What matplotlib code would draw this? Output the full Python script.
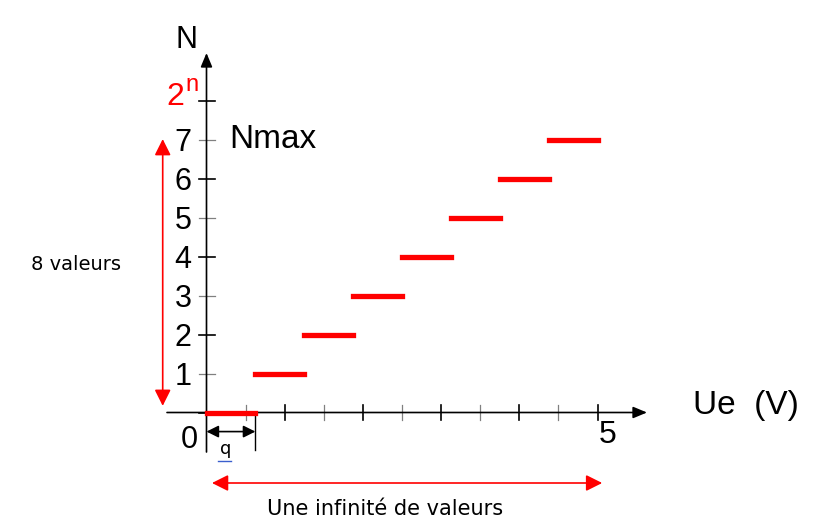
import matplotlib
matplotlib.use('Agg')
import matplotlib.pyplot as plt
from matplotlib.lines import Line2D

# CAN 3 bits : caracteristique N = f(Ue)
n_bits = 3
u_full = 5.0
levels = [0, 1, 2, 3, 4, 5, 6, 7]
x_ticks = [0.5, 1.0, 1.5, 2.0, 2.5, 3.0, 3.5, 4.0, 4.5, 5.0]
y_ticks = [0, 1, 2, 3, 4, 5, 6, 7, 8]
y_tick_labels = ['1', '2', '3', '4', '5', '6', '7']
q = u_full / 2 ** n_bits

plt.rcParams['font.family'] = ['Liberation Sans', 'DejaVu Sans']

W, H = 824, 529
x0, y0 = 206.5, 412.5          # origin in pixels
px_v, px_n = 78.2, 38.95       # pixels per volt / per level

fig = plt.figure(figsize=(W / 100, H / 100), dpi=100)
ax = fig.add_axes([0, 0, 1, 1])
ax.set_xlim(-x0 / px_v, (W - x0) / px_v)
ax.set_ylim(-(H - y0) / px_n, y0 / px_n)
ax.axis('off')

arrow_k = dict(shrinkA=0, shrinkB=0)

# axes with arrow heads
ax.annotate('', xy=((647 - x0) / px_v, 0), xytext=((167 - x0) / px_v, 0),
            arrowprops=dict(arrowstyle='-|>,head_length=0.6,head_width=0.25',
                            color='black', lw=1.2, mutation_scale=14, **arrow_k))
ax.annotate('', xy=(0, (y0 - 53) / px_n), xytext=(0, (y0 - 452) / px_n),
            arrowprops=dict(arrowstyle='-|>,head_length=0.6,head_width=0.25',
                            color='black', lw=1.2, mutation_scale=14, **arrow_k))

# ticks, alternately grey / black
for i, t in enumerate(x_ticks):
    c = 'black' if i % 2 == 1 else '#808080'
    ax.plot([t, t], [-0.18, 0.18], color=c, lw=1.2 if c == 'black' else 0.9)
for i, t in enumerate(y_ticks):
    c = 'black' if i % 2 == 0 else '#808080'
    ax.plot([-0.1, 0.11], [t, t], color=c, lw=1.2 if c == 'black' else 0.9)

# tick labels
for t, lab in zip(y_ticks[1:], y_tick_labels):
    ax.text(-0.30, t, lab, fontsize=22, ha='center', va='center_baseline')
ax.text(-0.22, -0.70, '0', fontsize=22, ha='center', va='center')
ax.text(x_ticks[-1] + 0.13, -0.57, '5', fontsize=23, ha='center', va='center')

# staircase
for k in levels:
    ax.plot([k * q, (k + 1) * q], [k, k], color='#ff0000', lw=3.8,
            solid_capstyle='projecting', zorder=5)

# labels
ax.text(-0.26, 9.56, 'N', fontsize=22, ha='center', va='center')
ax.text((184 - x0) / px_v, 8.11, '2', fontsize=23, color='#ff0000', ha='right', va='center')
ax.text((185 - x0) / px_v, 8.42, 'n', fontsize=17, color='#ff0000', ha='left', va='center')
ax.text(0.29, levels[-1], 'Nmax', fontsize=24, ha='left', va='center')
ax.text(6.90, 0.19, 'Ue  (V)', fontsize=24, ha='center', va='center')

# quantum q
ax.annotate('', xy=(q, -0.49), xytext=(0, -0.49),
            arrowprops=dict(arrowstyle='<|-|>,head_length=0.6,head_width=0.3',
                            color='black', lw=1.2, mutation_scale=12, **arrow_k))
ax.plot([q, q], [-0.06, -0.96], color='black', lw=1.0)
ax.text(0.24, -0.93, 'q', fontsize=13, family='DejaVu Sans', ha='center', va='center')
fig.add_artist(Line2D([218 / W, 231 / W], [1 - 460.5 / H] * 2, color='#3a5fcd', lw=1.0))

# 8 valeurs
ax.annotate('', xy=(-0.56, 7.02), xytext=(-0.56, 0.17),
            arrowprops=dict(arrowstyle='<|-|>,head_length=0.7,head_width=0.35',
                            color='#ff0000', lw=1.2, mutation_scale=14, **arrow_k))
ax.text(-1.67, 3.79, '8 valeurs', fontsize=14, family='DejaVu Sans', ha='center', va='center')

# une infinite de valeurs
ax.annotate('', xy=(5.06, -1.81), xytext=(0.07, -1.81),
            arrowprops=dict(arrowstyle='<|-|>,head_length=0.7,head_width=0.35',
                            color='#ff0000', lw=1.2, mutation_scale=14, **arrow_k))
ax.text(2.28, -2.48, 'Une infinité de valeurs', fontsize=15, family='DejaVu Sans',
        ha='center', va='center')

fig.savefig('out.png', dpi=100, facecolor='white')
